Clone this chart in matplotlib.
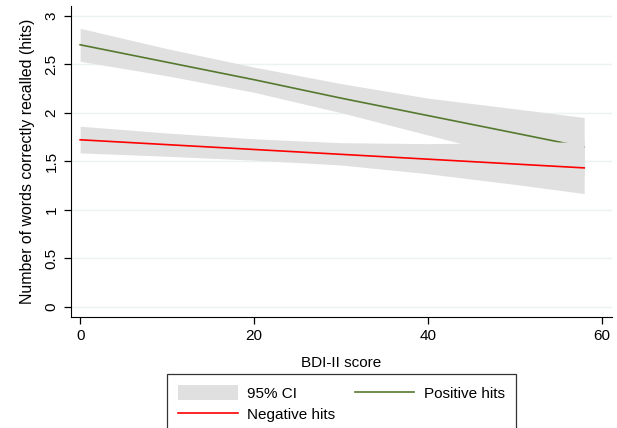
import numpy as np
import matplotlib
matplotlib.use('Agg')
import matplotlib.pyplot as plt
from matplotlib.patches import Patch
from matplotlib.lines import Line2D

plt.rcParams['font.family'] = ['Liberation Sans', 'DejaVu Sans']

# BDI-II score grid
bdi = [0, 10, 20, 30, 40, 50, 58]

# positive hits: fit and 95% CI
pos_fit = [2.70, 2.52, 2.34, 2.15, 1.97, 1.79, 1.645]
pos_hi = [2.87, 2.66, 2.47, 2.30, 2.15, 2.04, 1.95]
pos_lo = [2.53, 2.38, 2.21, 2.00, 1.77, 1.54, 1.34]

# negative hits: fit and 95% CI
neg_fit = [1.72, 1.67, 1.62, 1.57, 1.52, 1.47, 1.43]
neg_hi = [1.86, 1.79, 1.73, 1.69, 1.68, 1.69, 1.70]
neg_lo = [1.585, 1.55, 1.51, 1.46, 1.37, 1.26, 1.165]

yticks = [0, 0.5, 1, 1.5, 2, 2.5, 3]
yticklabels = ['0', '0.5', '1', '1.5', '2', '2.5', '3']
xticks = [0, 20, 40, 60]

band = '#e0e0e0'
green = '#55792f'
red = '#ff0000'

fig = plt.figure(figsize=(6.17, 4.28), dpi=100)
ax = fig.add_axes([71/617, 1-316.7/428, (612-71)/617, (316.7-6)/428])

ax.fill_between(bdi, pos_lo, pos_hi, color=band, lw=0, zorder=2)
ax.plot(bdi, pos_fit, color=green, lw=1.2, zorder=3)
ax.fill_between(bdi, neg_lo, neg_hi, color=band, lw=0, zorder=4)
ax.plot(bdi, neg_fit, color=red, lw=1.2, zorder=5)

ax.set_xlim(-1.05, 61.2)
ax.set_ylim(-0.105, 3.1)
ax.set_yticks(yticks)
ax.set_yticklabels(yticklabels, rotation=90, va='center')
ax.set_xticks(xticks)
for y in yticks:
    ax.axhline(y, color='#eaf2f3', lw=1.0, zorder=1)

ax.spines['top'].set_visible(False)
ax.spines['right'].set_visible(False)
ax.tick_params(labelsize=11, length=5, width=0.9, color='black', pad=4)
ax.set_xlabel('BDI-II score', fontsize=11, labelpad=9)
ax.set_ylabel('Number of words correctly recalled (hits)', fontsize=11.4, labelpad=7)

handles = [Patch(facecolor=band, edgecolor='none'),
           Line2D([], [], color=red, lw=1.2),
           Line2D([], [], color=green, lw=1.2)]
labels = ['95% CI', 'Negative hits', 'Positive hits']
leg = fig.legend(handles, labels, ncol=2, loc='upper left',
                 bbox_to_anchor=(167/617, 1-374/428, (516-167)/617, 0.0),
                 mode='expand', fontsize=11, frameon=True, fancybox=False,
                 edgecolor='black', handlelength=3.9, handleheight=1.1,
                 handletextpad=0.6, borderpad=0.75, labelspacing=0.35,
                 columnspacing=1.0, borderaxespad=0)
leg.get_frame().set_linewidth(0.9)

fig.savefig('out.png', dpi=100)
